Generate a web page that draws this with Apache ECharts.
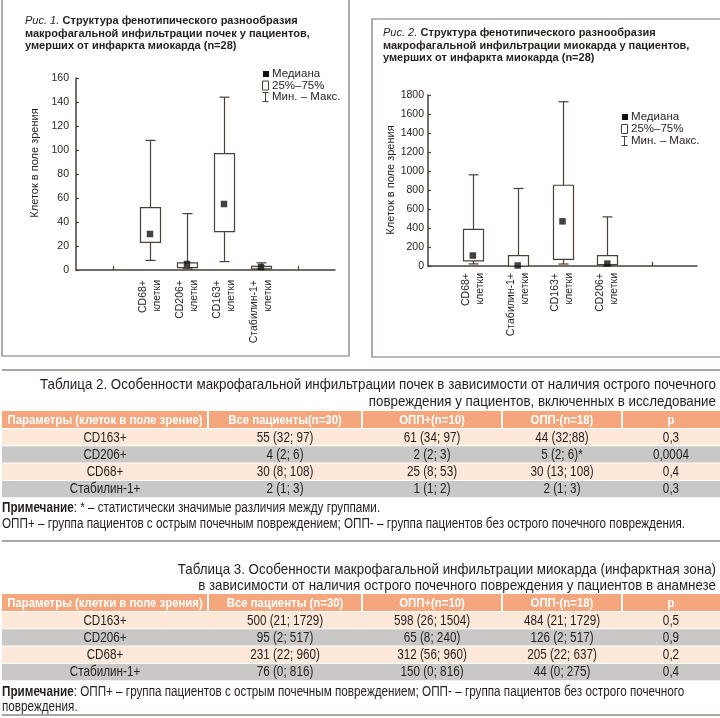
<!DOCTYPE html>
<html><head><meta charset="utf-8">
<script src="https://cdn.jsdelivr.net/npm/echarts@6/dist/echarts.min.js"></script>
<style>html,body{margin:0;padding:0;background:#fff}#c{width:720px;height:718px}</style>
</head><body><div id="c"></div>
<script>
// ---------- Figure 1 data (kidney) ----------
const cats1 = ['CD68+', 'CD206+', 'CD163+', 'Стабилин-1+'];
const min1 = [8, 1, 7, 1];
const q1v1 = [23, 2, 32, 1];
const med1 = [30, 5, 55, 2.5];
const q3v1 = [52, 6, 97, 3];
const max1 = [108, 47, 144, 6];
// ---------- Figure 2 data (myocardium) ----------
const cats2 = ['CD68+', 'Стабилин-1+', 'CD163+', 'CD206+'];
const min2 = [22, 0, 21, 2];
const q1v2 = [55, 0, 70, 15];
const med2 = [110, 5, 470, 25];
const q3v2 = [385, 110, 850, 110];
const max2 = [960, 816, 1729, 517];
// ---------- Table 2 ----------
const t2Header = ['Параметры (клеток в поле зрение)', 'Все пациенты(n=30)', 'ОПП+(n=10)', 'ОПП-(n=18)', 'p'];
const t2Params = ['CD163+', 'CD206+', 'CD68+', 'Стабилин-1+'];
const t2All = ['55 (32; 97)', '4 (2; 6)', '30 (8; 108)', '2 (1; 3)'];
const t2Plus = ['61 (34; 97)', '2 (2; 3)', '25 (8; 53)', '1 (1; 2)'];
const t2Minus = ['44 (32;88)', '5 (2; 6)*', '30 (13; 108)', '2 (1; 3)'];
const t2P = ['0,3', '0,0004', '0,4', '0,3'];
// ---------- Table 3 ----------
const t3Header = ['Параметры (клетки в поле зрения)', 'Все пациенты (n=30)', 'ОПП+(n=10)', 'ОПП-(n=18)', 'p'];
const t3Params = ['CD163+', 'CD206+', 'CD68+', 'Стабилин-1+'];
const t3All = ['500 (21; 1729)', '95 (2; 517)', '231 (22; 960)', '76 (0; 816)'];
const t3Plus = ['598 (26; 1504)', '65 (8; 240)', '312 (56; 960)', '150 (0; 816)'];
const t3Minus = ['484 (21; 1729)', '126 (2; 517)', '205 (22; 637)', '44 (0; 275)'];
const t3P = ['0,5', '0,9', '0,2', '0,4'];

const t2Title = ['Таблица 2. Особенности макрофагальной инфильтрации почек в зависимости от наличия острого почечного', 'повреждения у пациентов, включенных в исследование'];
const t2Notes = ['{b|Примечание}: * – статистически значимые различия между группами.', 'ОПП+ – группа пациентов с острым почечным повреждением; ОПП- – группа пациентов без острого почечного повреждения.'];
const t3Title = ['Таблица 3. Особенности макрофагальной инфильтрации миокарда (инфарктная зона)', 'в зависимости от наличия острого почечного повреждения у пациентов в анамнезе'];
const t3Notes = ['{b|Примечание}: ОПП+ – группа пациентов с острым почечным повреждением; ОПП- – группа пациентов без острого почечного', 'повреждения.'];

const LINE = '#4a4037';
const TXT = '#231f1c';
const CF = "'Liberation Sans', Arial, sans-serif";
const NF = "'Liberation Sans', Arial, sans-serif";

// condensed look: measure text and compress horizontally
const mctx = document.createElement('canvas').getContext('2d');
function mw(s, font) { mctx.font = font; return mctx.measureText(s).width; }
const TITLE_SIZE = 15, BODY_SIZE = 14, HEAD_SIZE = 13.5;
const TITLE_FONT = TITLE_SIZE + 'px ' + NF, BODY_FONT = BODY_SIZE + 'px ' + NF, HEAD_FONT = 'bold ' + HEAD_SIZE + 'px ' + NF;
const sTitle = 676 / mw(t2Title[0], TITLE_FONT);
const sBody = 683 / mw(t2Notes[1], BODY_FONT);
const sHead = 195 / mw(t2Header[0], HEAD_FONT);

const axisCats1 = ['', ''].concat(cats1.map(c => c + '\nклетки'), ['', '']);
const axisCats2 = [''].concat(cats2.map(c => c + '\nклетки'), ['', '']);
const off1 = 2, off2 = 1;

function boxRender(params, api) {
  const x = api.value(0);
  const pMin = api.coord([x, api.value(1)]);
  const pQ1 = api.coord([x, api.value(2)]);
  const pQ3 = api.coord([x, api.value(4)]);
  const pMax = api.coord([x, api.value(5)]);
  const cx = Math.round(pMin[0]) + 0.5;
  const bw = 20, cw = 10;
  const st = {stroke: LINE, lineWidth: 1.2};
  return {type: 'group', children: [
    {type: 'line', shape: {x1: cx, y1: pMax[1], x2: cx, y2: pQ3[1]}, style: st},
    {type: 'line', shape: {x1: cx, y1: pQ1[1], x2: cx, y2: pMin[1]}, style: st},
    {type: 'line', shape: {x1: cx - cw / 2, y1: pMax[1], x2: cx + cw / 2, y2: pMax[1]}, style: st},
    {type: 'line', shape: {x1: cx - cw / 2, y1: pMin[1], x2: cx + cw / 2, y2: pMin[1]}, style: st},
    {type: 'rect', shape: {x: cx - bw / 2, y: pQ3[1], width: bw, height: pQ1[1] - pQ3[1]}, style: {stroke: LINE, lineWidth: 1.2, fill: '#fff'}}
  ]};
}

function boxData(off, mn, q1, md, q3, mx) {
  return mn.map((v, i) => [i + off, mn[i], q1[i], md[i], q3[i], mx[i]]);
}

function xAxisCfg(idx, cats) {
  return {
    type: 'category', gridIndex: idx, data: cats, boundaryGap: false,
    axisLine: {lineStyle: {color: LINE, width: 1.5}},
    axisTick: {inside: true, length: 4, lineStyle: {color: LINE, width: 1.2},
      interval: (i, v) => v === '' && i > 0 && i < cats.length - 1},
    axisLabel: {interval: 0, rotate: 90, margin: idx === 0 ? 10 : 7, color: TXT, fontFamily: CF, fontSize: 10.5, lineHeight: 14}
  };
}
function yAxisCfg(idx, max, interval, margin) {
  return {
    type: 'value', gridIndex: idx, min: 0, max: max, interval: interval,
    splitLine: {show: false},
    axisLine: {show: true, lineStyle: {color: LINE, width: 1.5}},
    axisTick: {show: true, inside: true, length: 3, lineStyle: {color: LINE, width: 1.2}},
    axisLabel: {color: TXT, fontFamily: CF, fontSize: 10.5, margin: margin, formatter: v => String(v)}
  };
}

function legend(x, y0, dy) {
  const t = (y, s) => ({type: 'text', x: x + 9, y: y, style: {text: s, fill: TXT, font: '11.5px ' + CF, verticalAlign: 'middle'}});
  return [
    {type: 'rect', shape: {x: x, y: y0 - 3, width: 6, height: 6}, style: {fill: '#111'}},
    t(y0, 'Медиана'),
    {type: 'rect', shape: {x: x - 0.5, y: y0 + dy - 4.5, width: 6, height: 9}, style: {fill: '#fff', stroke: LINE, lineWidth: 1}},
    t(y0 + dy, '25%–75%'),
    {type: 'polyline', shape: {points: [[x - 0.5, y0 + 2 * dy - 4.5], [x + 5.5, y0 + 2 * dy - 4.5]]}, style: {stroke: LINE, lineWidth: 1}},
    {type: 'polyline', shape: {points: [[x - 0.5, y0 + 2 * dy + 4.5], [x + 5.5, y0 + 2 * dy + 4.5]]}, style: {stroke: LINE, lineWidth: 1}},
    {type: 'polyline', shape: {points: [[x + 2.5, y0 + 2 * dy - 4.5], [x + 2.5, y0 + 2 * dy + 4.5]]}, style: {stroke: LINE, lineWidth: 1}},
    t(y0 + 2 * dy, 'Мин. – Макс.')
  ];
}

function figTitle(x, y, num, l1, l2, l3) {
  return {type: 'text', x: x, y: y, style: {
    text: '{i|Рис. ' + num + '.} {b|' + l1 + '}\n{b|' + l2 + '}\n{b|' + l3 + '}',
    rich: {
      i: {fontStyle: 'italic', fontSize: 11, fontFamily: CF, fill: TXT, lineHeight: 12.5},
      b: {fontWeight: 'bold', fontSize: 11, fontFamily: CF, fill: TXT, lineHeight: 12.5}
    }
  }};
}

const colX = [2, 208, 362, 502, 622, 720];
const HEAD = '#f6a67c', PEACH = '#fde8da', GRAY = '#c9c8c7';
function table(top, header, cols) {
  const els = [];
  const hh = 17, rh = 17.3;
  for (let c = 0; c < 5; c++) {
    const x0 = colX[c] + (c ? 1 : 0), x1 = colX[c + 1] - (c < 4 ? 1 : 0);
    els.push({type: 'rect', shape: {x: x0, y: top, width: x1 - x0, height: hh}, style: {fill: HEAD}});
    els.push({type: 'text', x: (colX[c] + colX[c + 1]) / 2, y: top + hh / 2 + 0.5, scaleX: sHead,
      style: {text: header[c], fill: '#fff', font: HEAD_FONT, align: 'center', verticalAlign: 'middle'}});
  }
  const n = cols[0].length;
  for (let r = 0; r < n; r++) {
    const y = top + hh + r * rh;
    els.push({type: 'rect', shape: {x: 2, y: y + 1, width: 718, height: rh - 1}, style: {fill: r % 2 ? GRAY : PEACH}});
    for (let c = 0; c < 5; c++) {
      els.push({type: 'text', x: (colX[c] + colX[c + 1]) / 2, y: y + rh / 2 + 1, scaleX: sBody,
        style: {text: cols[c][r], fill: TXT, font: BODY_FONT, align: 'center', verticalAlign: 'middle'}});
    }
  }
  return els;
}
function tText(x, y, s, align, size, scale) {
  return {type: 'text', x: x, y: y, scaleX: scale, style: {text: s, fill: TXT, fontSize: size, fontFamily: NF, align: align, verticalAlign: 'middle',
    rich: {b: {fontWeight: 'bold', fontSize: size, fontFamily: NF, fill: TXT}}}};
}
function hline(y) {
  return {type: 'line', shape: {x1: 2, y1: y, x2: 720, y2: y}, style: {stroke: '#8c8782', lineWidth: 1.5}};
}

const graphics = [].concat(
  [{type: 'rect', shape: {x: 2, y: -5, width: 347, height: 361}, style: {fill: 'none', stroke: '#7c746a', lineWidth: 1.2}},
   {type: 'rect', shape: {x: 372, y: 19, width: 360, height: 338}, style: {fill: 'none', stroke: '#7c746a', lineWidth: 1.2}}],
  [figTitle(25, 15, 1, 'Структура фенотипического разнообразия', 'макрофагальной инфильтрации почек у пациентов,', 'умерших от инфаркта миокарда (n=28)'),
   figTitle(383, 27, 2, 'Структура фенотипического разнообразия', 'макрофагальной инфильтрации миокарда у пациентов,', 'умерших от инфаркта миокарда (n=28)')],
  [{type: 'text', x: 35, y: 163, rotation: Math.PI / 2, style: {text: 'Клеток в поле зрения', fill: TXT, font: '11px ' + CF, align: 'center', verticalAlign: 'middle'}},
   {type: 'text', x: 391, y: 180, rotation: Math.PI / 2, style: {text: 'Клеток в поле зрения', fill: TXT, font: '11px ' + CF, align: 'center', verticalAlign: 'middle'}}],
  legend(263, 74, 11.5), legend(622, 117, 12),
  [hline(370), hline(541), hline(715)],
  [tText(716, 385, t2Title[0], 'right', TITLE_SIZE, sTitle), tText(716, 402, t2Title[1], 'right', TITLE_SIZE, sTitle)],
  table(411, t2Header, [t2Params, t2All, t2Plus, t2Minus, t2P]),
  [tText(2, 508, t2Notes[0], 'left', BODY_SIZE, sBody), tText(2, 524, t2Notes[1], 'left', BODY_SIZE, sBody)],
  [tText(716, 570, t3Title[0], 'right', TITLE_SIZE, sTitle), tText(716, 586, t3Title[1], 'right', TITLE_SIZE, sTitle)],
  table(594, t3Header, [t3Params, t3All, t3Plus, t3Minus, t3P]),
  [tText(2, 692, t3Notes[0], 'left', BODY_SIZE, sBody), tText(2, 707, t3Notes[1], 'left', BODY_SIZE, sBody)]
);

const chart = echarts.init(document.getElementById('c'), null, {renderer: 'canvas'});
chart.setOption({
  backgroundColor: '#fff',
  animation: false,
  grid: [
    {left: 76, top: 78, width: 259, height: 192},
    {left: 428, top: 95, width: 269, height: 171}
  ],
  xAxis: [xAxisCfg(0, axisCats1), xAxisCfg(1, axisCats2)],
  yAxis: [yAxisCfg(0, 160, 20, 7), yAxisCfg(1, 1800, 200, 4)],
  series: [
    {type: 'custom', xAxisIndex: 0, yAxisIndex: 0, renderItem: boxRender, encode: {x: 0, y: [1, 2, 3, 4, 5]}, data: boxData(off1, min1, q1v1, med1, q3v1, max1), z: 2},
    {type: 'scatter', xAxisIndex: 0, yAxisIndex: 0, symbol: 'rect', symbolSize: 6.5, itemStyle: {color: '#111'}, data: med1.map((v, i) => [i + off1, v]), z: 3},
    {type: 'custom', xAxisIndex: 1, yAxisIndex: 1, renderItem: boxRender, encode: {x: 0, y: [1, 2, 3, 4, 5]}, data: boxData(off2, min2, q1v2, med2, q3v2, max2), z: 2},
    {type: 'scatter', xAxisIndex: 1, yAxisIndex: 1, symbol: 'rect', symbolSize: 6.5, itemStyle: {color: '#111'}, data: med2.map((v, i) => [i + off2, v]), z: 3}
  ],
  graphic: graphics
});
</script></body></html>
